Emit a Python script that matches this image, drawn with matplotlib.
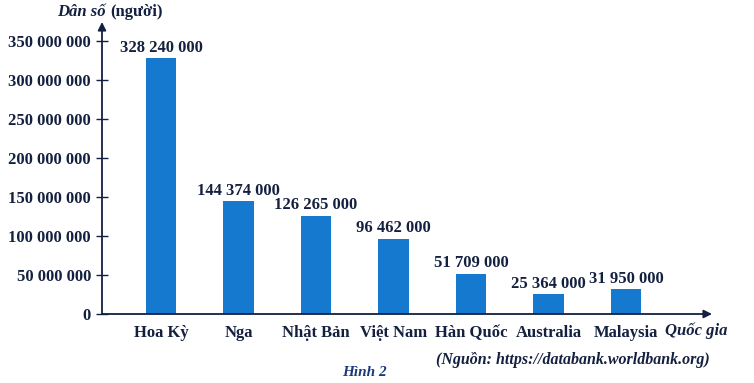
import matplotlib.pyplot as plt

# Dân số một số quốc gia (Hình 2)
countries = ["Hoa Kỳ", "Nga", "Nhật Bản", "Việt Nam", "Hàn Quốc", "Australia", "Malaysia"]
population = [328240000, 144374000, 126265000, 96462000, 51709000, 25364000, 31950000]
yticks = [0, 50000000, 100000000, 150000000, 200000000, 250000000, 300000000, 350000000]

text_color = "#14203f"
bar_color = "#1479cf"

plt.rcParams["font.family"] = ["Liberation Serif", "DejaVu Serif"]


def fmt(v):
    return "{:,}".format(v).replace(",", " ")


fig = plt.figure(figsize=(7.54, 3.83), dpi=100)
ax = fig.add_axes([102 / 754, 69 / 383, 610 / 754, 292 / 383])

x = list(range(len(countries)))
ax.bar(x, population, width=0.39, color=bar_color)

for xi, v in zip(x, population):
    ax.text(xi, v + 3000000, fmt(v), ha="center", va="bottom",
            fontsize=12, weight="bold", color=text_color)

ax.set_xlim(-0.761, 7.11)
ax.set_ylim(0, 374400000)
ax.set_yticks(yticks)
ax.set_yticklabels([fmt(t) for t in yticks], fontsize=12, weight="bold",
                   color=text_color)
ax.tick_params(axis="y", direction="inout", length=8, width=1.0,
               color=text_color, pad=4)
ax.set_xticks(x)
ax.set_xticklabels(countries, fontsize=12, weight="bold", color=text_color)
ax.tick_params(axis="x", length=0, pad=8)

for s in ["top", "right", "left", "bottom"]:
    ax.spines[s].set_visible(False)

# axes with arrows
ax.annotate("", xy=(1.0, 0), xytext=(0, 0), xycoords="axes fraction",
            arrowprops=dict(arrowstyle="-|>", color=text_color, lw=1.3,
                            mutation_scale=12, shrinkA=0, shrinkB=0))
ax.annotate("", xy=(0, 1.0), xytext=(0, 0), xycoords="axes fraction",
            arrowprops=dict(arrowstyle="-|>", color=text_color, lw=1.3,
                            mutation_scale=12, shrinkA=0, shrinkB=0))

fig.text(57 / 754, 1 - 12 / 383, "Dân số", fontsize=12, style="italic",
         weight="bold", color=text_color, va="center")
fig.text(110 / 754, 1 - 12 / 383, "(người)", fontsize=12, weight="bold",
         color=text_color, va="center")
fig.text(665 / 754, 1 - 331 / 383, "Quốc gia", fontsize=12, style="italic",
         weight="bold", color=text_color, va="center")
fig.text(710 / 754, 1 - 360 / 383, "(Nguồn: https://databank.worldbank.org)",
         fontsize=11.5, style="italic", weight="bold", color=text_color,
         va="center", ha="right")
fig.text(364 / 754, 1 - 373 / 383, "Hình 2", fontsize=11, style="italic",
         weight="bold", color="#1b3a7a", va="center", ha="center")

fig.savefig("out.png", dpi=100)
